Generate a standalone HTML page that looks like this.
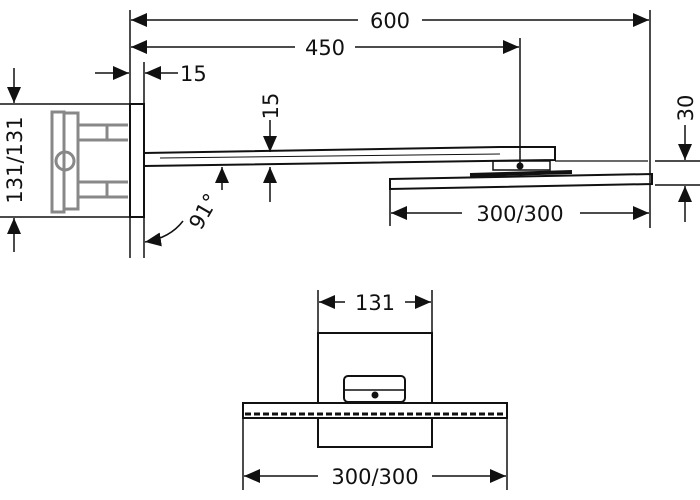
<!DOCTYPE html>
<html><head><style>html,body{margin:0;padding:0;background:#fff}svg{display:block}text{font-family:"DejaVu Sans","Liberation Sans",sans-serif;font-size:21px;fill:#111}</style></head><body>
<svg width="700" height="500" viewBox="0 0 700 500" xmlns="http://www.w3.org/2000/svg">
<defs>
<marker id="a" viewBox="0 0 16 14" refX="16" refY="7" markerWidth="16" markerHeight="14" markerUnits="userSpaceOnUse" orient="auto"><path d="M0,0L16,7L0,14z" fill="#111"/></marker>
</defs>
<g stroke="#111" stroke-width="1.5" fill="none">
<line x1="130" y1="10" x2="130" y2="104"/>
<line x1="130" y1="217" x2="130" y2="258"/>
<line x1="144" y1="62" x2="144" y2="258"/>
<line x1="650" y1="10" x2="650" y2="228"/>
<line x1="520" y1="38" x2="520" y2="165"/>
<line x1="390" y1="190" x2="390" y2="226"/>
<line x1="0" y1="104" x2="130" y2="104"/>
<line x1="0" y1="217" x2="130" y2="217"/>
<line x1="655" y1="161" x2="700" y2="161"/>
<line x1="655" y1="185" x2="700" y2="185"/>
<line x1="358" y1="20" x2="131" y2="20" marker-end="url(#a)"/>
<line x1="422" y1="20" x2="649" y2="20" marker-end="url(#a)"/>
<line x1="295" y1="47" x2="131" y2="47" marker-end="url(#a)"/>
<line x1="355" y1="47" x2="519" y2="47" marker-end="url(#a)"/>
<line x1="95" y1="73" x2="129" y2="73" marker-end="url(#a)"/>
<line x1="178" y1="73" x2="145" y2="73" marker-end="url(#a)"/>
<line x1="14" y1="68" x2="14" y2="103" marker-end="url(#a)"/>
<line x1="14" y1="252" x2="14" y2="218" marker-end="url(#a)"/>
<line x1="270" y1="120" x2="270" y2="152" marker-end="url(#a)"/>
<line x1="270" y1="202" x2="270" y2="167" marker-end="url(#a)"/>
<line x1="222" y1="190" x2="222" y2="167" marker-end="url(#a)"/>
<path d="M183,221 Q170,238 145,242" marker-end="url(#a)"/>
<line x1="685" y1="125" x2="685" y2="160" marker-end="url(#a)"/>
<line x1="685" y1="222" x2="685" y2="186" marker-end="url(#a)"/>
<line x1="462" y1="213" x2="391" y2="213" marker-end="url(#a)"/>
<line x1="580" y1="213" x2="649" y2="213" marker-end="url(#a)"/>
<rect x="130" y="104" width="14" height="113" stroke-width="2"/>
<path d="M144,153 L500,147 L555,147 L555,160 L144,166" stroke-width="2"/>
<line x1="160" y1="158" x2="500" y2="154" stroke-width="1"/>
<line x1="555" y1="161" x2="648" y2="161" stroke-width="1.2"/>
<rect x="493" y="161" width="57" height="9" stroke-width="1.5"/>
<path d="M470,175 L572,172" stroke-width="4"/>
<path d="M390,179 L652,174 L652,184 L390,189 Z" stroke-width="2"/>
</g>
<circle cx="520" cy="166" r="3.5" fill="#111"/>
<g stroke="#888" stroke-width="3" fill="none">
<rect x="52" y="112" width="12" height="100"/>
<rect x="64" y="113" width="14" height="96"/>
<circle cx="65" cy="161" r="9"/>
<line x1="78" y1="125" x2="128" y2="125"/><line x1="78" y1="140" x2="128" y2="140"/>
<line x1="78" y1="182" x2="128" y2="182"/><line x1="78" y1="197" x2="128" y2="197"/>
<line x1="107" y1="125" x2="107" y2="140"/><line x1="107" y1="182" x2="107" y2="197"/>
</g>
<text x="390" y="28" text-anchor="middle">600</text>
<text x="325" y="55" text-anchor="middle">450</text>
<text x="180" y="81">15</text>
<text transform="translate(22,160) rotate(-90)" text-anchor="middle">131/131</text>
<text transform="translate(278,106) rotate(-90)" text-anchor="middle">15</text>
<text transform="translate(693,108) rotate(-90)" text-anchor="middle">30</text>
<text transform="translate(210,215) rotate(-60)" text-anchor="middle">91°</text>
<text x="520" y="221" text-anchor="middle">300/300</text>
<g stroke="#111" stroke-width="1.5" fill="none">
<line x1="318" y1="290" x2="318" y2="333"/>
<line x1="432" y1="290" x2="432" y2="333"/>
<line x1="345" y1="302" x2="319" y2="302" marker-end="url(#a)"/>
<line x1="405" y1="302" x2="431" y2="302" marker-end="url(#a)"/>
<rect x="318" y="333" width="114" height="114" stroke-width="2"/>
<rect x="243" y="403" width="264" height="15" stroke-width="2" fill="#fff"/>
<line x1="245" y1="414" x2="505" y2="414" stroke-width="3" stroke-dasharray="6,3"/>
<rect x="344" y="376" width="61" height="26" rx="4" stroke-width="2" fill="#fff"/>
<line x1="344" y1="390" x2="405" y2="390" stroke-width="1.5"/>
<line x1="243" y1="418" x2="243" y2="490"/>
<line x1="507" y1="418" x2="507" y2="490"/>
<line x1="318" y1="476" x2="244" y2="476" marker-end="url(#a)"/>
<line x1="432" y1="476" x2="506" y2="476" marker-end="url(#a)"/>
</g>
<circle cx="375" cy="395" r="3.5" fill="#111"/>
<text x="375" y="310" text-anchor="middle">131</text>
<text x="375" y="484" text-anchor="middle">300/300</text>
</svg>
</body></html>
